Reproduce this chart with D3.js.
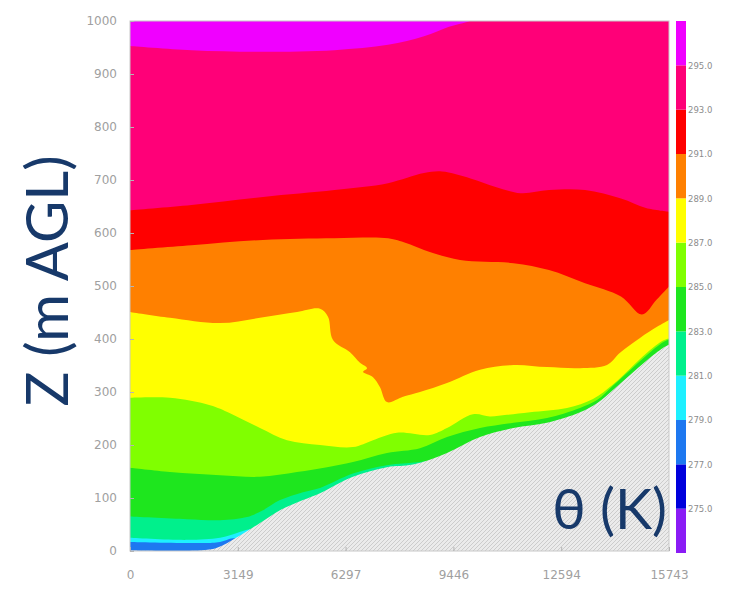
<!DOCTYPE html>
<html>
<head>
<meta charset="utf-8">
<script src="https://cdn.jsdelivr.net/npm/d3@7"></script>
<style>
  body { margin: 0; background: #fff; }
  svg { display: block; }
</style>
</head>
<body>
<svg width="741" height="596"></svg>
<script>
// ---- data ----
var xTicks = [0, 3149, 6297, 9446, 12594, 15743];
var yTicks = [0, 100, 200, 300, 400, 500, 600, 700, 800, 900, 1000];
var levels = [275, 277, 279, 281, 283, 285, 287, 289, 291, 293, 295];
// band colours, from below 275 up to above 295
var colors = ['#8a1cf5', '#0000dc', '#1e78f0', '#1ef0ff', '#00f08c', '#1ee61e',
              '#80ff00', '#ffff00', '#ff8000', '#ff0000', '#ff0078', '#f000ff'];

// contour lines: [distance, height]
var th295 = [[0,953],[1796,945],[3885,942],[5976,945],[7536,955],[8587,971],[9318,989],[9843,998],[10400,1012],[12500,1015],[15743,1012]];
var th293 = [[0,643],[1796,653],[3885,668],[5976,681],[7536,694],[8587,713],[9113,716],[9945,703],[10679,687],[11408,675],[12238,681],[13290,681],[14341,665],[15071,647],[15743,640]];
var th291 = [[0,568],[1796,577],[3885,587],[5976,590],[7536,590],[8061,581],[8587,568],[9639,549],[11201,543],[12238,530],[13290,505],[14341,480],[14954,446],[15378,474],[15743,499]];
var th289 = [[0,451],[1168,440],[2629,430],[3797,440],[4878,451],[5550,457],[5783,442],[5929,398],[6426,375],[6718,355],[6922,345],[6806,338],[7098,328],[7302,309],[7506,281],[7974,291],[8470,300],[9259,317],[10223,342],[11201,351],[12180,347],[13144,345],[13932,351],[14312,374],[14896,402],[15393,423],[15743,436]];
var th287 = [[0,289],[1168,289],[2337,275],[2921,260],[3797,232],[4586,209],[5550,200],[6513,196],[7098,209],[7798,223],[8762,219],[9259,232],[10018,258],[10515,254],[11011,257],[11683,262],[12764,270],[13523,287],[14107,314],[14604,344],[15100,374],[15568,397],[15743,401]];
var th285 = [[0,157],[1168,149],[2629,143],[3797,140],[4878,149],[5754,158],[6513,168],[7506,185],[8470,194],[9259,215],[10223,232],[11201,242],[12180,251],[13144,270],[13640,285],[14107,312],[14604,341],[15100,370],[15568,394],[15743,399]];
var th283 = [[0,65],[1665,60],[2629,58],[3417,64],[3885,77],[4381,96],[5053,111],[5550,119],[6513,146],[7506,162],[8470,168],[9259,178],[10223,205],[11201,222],[12180,232],[13144,250],[14107,292],[15100,348],[15743,378]];
var th281 = [[0,25],[1665,21],[2629,25],[3125,34],[3417,40],[3700,42],[4200,20],[5000,0],[15743,0]];
var th279 = [[0,17],[2132,15],[2629,17],[3008,24],[3300,22],[4000,5],[15743,0]];
var terrain = [[0,1],[2045,1],[2541,6],[3125,26],[3797,53],[4381,77],[5053,96],[5550,109],[6513,140],[7506,158],[8266,163],[9259,185],[10223,215],[11201,232],[12180,242],[13144,262],[13640,279],[14107,304],[14604,332],[15100,360],[15568,383],[15743,389]];

var lines = [th279, th281, th283, th285, th287, th289, th291, th293, th295];

// ---- layout ----
var svg = d3.select('svg');
var pL = 130, pR = 669, pT = 21, pB = 551;

var x = d3.scaleLinear().domain([0, 15743]).range([pL, pR]);
var y = d3.scaleLinear().domain([0, 1000]).range([pB, pT]);

var defs = svg.append('defs');
defs.append('clipPath').attr('id', 'plot')
  .append('rect').attr('x', pL).attr('y', pT).attr('width', pR - pL).attr('height', pB - pT);

var pat = defs.append('pattern').attr('id', 'hatch')
  .attr('patternUnits', 'userSpaceOnUse').attr('width', 4).attr('height', 4);
pat.append('rect').attr('width', 4).attr('height', 4).attr('fill', '#ebebeb');
pat.append('path').attr('d', 'M-1,1 l2,-2 M0,4 l4,-4 M3,5 l2,-2')
  .attr('stroke', '#c4c4c4').attr('stroke-width', 0.8);

var g = svg.append('g').attr('clip-path', 'url(#plot)');

// top band fills everything, then each contour paints the band below it
g.append('rect').attr('x', pL).attr('y', pT).attr('width', pR - pL).attr('height', pB - pT)
  .attr('fill', colors[11]);

var area = d3.area()
  .x(function (d) { return x(d[0]); })
  .y0(pB + 2)
  .y1(function (d) { return y(d[1]); })
  .curve(d3.curveCatmullRom.alpha(0.5));

for (var i = lines.length - 1; i >= 0; i--) {
  // th279 is index 0 -> band below is 277-279 (colors[2])
  g.append('path').datum(lines[i]).attr('d', area).attr('fill', colors[i + 2]);
}

g.append('path').datum(terrain).attr('d', area).attr('fill', 'url(#hatch)');

// frame
svg.append('rect').attr('x', pL).attr('y', pT).attr('width', pR - pL).attr('height', pB - pT)
  .attr('fill', 'none').attr('stroke', '#c8c8c8').attr('stroke-width', 1);

// axes
var yAxis = svg.append('g').attr('transform', 'translate(' + pL + ',0)')
  .call(d3.axisLeft(y).tickValues(yTicks).tickSize(-4).tickPadding(13).tickFormat(d3.format('d')));
var xAxis = svg.append('g').attr('transform', 'translate(0,' + pB + ')')
  .call(d3.axisBottom(x).tickValues(xTicks).tickSize(-4).tickPadding(19).tickFormat(d3.format('d')));

[yAxis, xAxis].forEach(function (a) {
  a.select('.domain').remove();
  a.selectAll('line').attr('stroke', '#b4b4b4');
  a.selectAll('text').attr('fill', '#a0a0a0').style('font-family', 'DejaVu Sans').style('font-size', '12px');
});

// colour bar
var cb = d3.scaleLinear().domain([273, 297]).range([553, 21]);
var cbx = 676, cbw = 10;
svg.append('g').selectAll('rect').data(colors).enter().append('rect')
  .attr('x', cbx).attr('width', cbw)
  .attr('y', function (d, i) { return cb(275 + 2 * i); })
  .attr('height', function (d, i) { return cb(273 + 2 * i) - cb(275 + 2 * i); })
  .attr('fill', function (d) { return d; });

svg.append('g').attr('transform', 'translate(' + (cbx + cbw) + ',0)')
  .call(d3.axisRight(cb).tickValues(levels).tickSize(0).tickPadding(2).tickFormat(d3.format('.1f')))
  .call(function (a) {
    a.select('.domain').remove();
    a.selectAll('text').attr('fill', '#8c8c8c').style('font-family', 'DejaVu Sans').style('font-size', '8.5px');
  });

// big labels
svg.append('text')
  .attr('transform', 'translate(68,281) rotate(-90)')
  .attr('text-anchor', 'middle')
  .attr('fill', '#17396a')
  .style('font-family', 'Lato').style('font-size', '58px')
  .text('Z (m AGL)');

svg.append('text')
  .attr('x', 667).attr('y', 529)
  .attr('text-anchor', 'end')
  .attr('fill', '#17396a')
  .style('font-family', 'Lato').style('font-size', '56px')
  .text('θ (K)');
</script>
</body>
</html>
